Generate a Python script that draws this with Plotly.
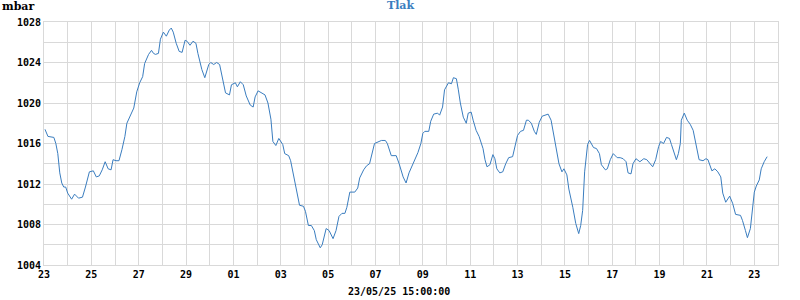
import pandas as pd
import plotly.graph_objects as go

# hours since 2025-04-23 00:00
hours = [1, 4, 10, 12, 14, 16, 18, 20, 22, 24, 28, 31, 35, 39, 42, 46, 50, 53, 56, 59,
         62, 65, 68, 70, 73, 76, 79, 82, 84, 87, 91, 94, 97, 100, 102, 106, 109, 111, 113, 116,
         118, 121, 124, 127, 129, 131, 134, 137, 140, 143, 145, 148, 151, 154, 156, 160, 163, 167, 169, 172,
         175, 178, 181, 184, 188, 190, 194, 196, 199, 202, 205, 209, 212, 214, 217, 221, 224, 227, 230, 232,
         235, 238, 242, 244, 248, 250, 252, 254, 257, 259, 263, 265, 268, 271, 274, 276, 280, 282, 286, 289,
         293, 296, 299, 302, 305, 307, 310, 315, 318, 320, 324, 327, 330, 333, 335, 342, 346, 348, 352, 357,
         360, 364, 367, 370, 374, 379, 382, 384, 386, 390, 392, 395, 399, 401, 404, 406, 410, 413, 415, 418,
         420, 422, 425, 428, 430, 433, 435, 438, 441, 445, 447, 449, 452, 455, 457, 459, 462, 465, 468, 471,
         475, 477, 480, 483, 486, 489, 491, 494, 497, 499, 502, 505, 511, 514, 516, 520, 522, 525, 527, 530,
         532, 536, 539, 542, 544, 546, 548, 551, 553, 557, 560, 563, 565, 569, 571, 574, 577, 581, 584, 587,
         590, 592, 595, 597, 600, 604, 608, 611, 614, 617, 620, 623, 625, 628, 631, 634, 636, 639, 641, 643,
         645, 646, 649, 652, 655, 658, 661, 664, 668, 671, 673, 677, 680, 683, 686, 688, 691, 695, 698, 701,
         706, 708, 711, 713, 716, 718, 720, 722, 725, 727, 730, 733]
pressure = [1017.4, 1016.7, 1016.6, 1016.0, 1015.0, 1013.1, 1012.1, 1011.7, 1011.7, 1011.1, 1010.5, 1011.0, 1010.6, 1010.7, 1011.7, 1013.2, 1013.3, 1012.7, 1012.8, 1013.4,
            1014.2, 1013.5, 1013.4, 1014.4, 1014.3, 1014.3, 1015.4, 1016.7, 1018.0, 1018.7, 1019.5, 1021.1, 1022.0, 1022.6, 1023.9, 1024.8, 1025.2, 1024.9, 1024.8, 1024.9,
            1026.3, 1027.0, 1026.6, 1027.2, 1027.4, 1027.0, 1025.9, 1025.1, 1025.0, 1026.2, 1026.1, 1025.7, 1026.1, 1025.9, 1024.9, 1023.3, 1022.5, 1023.8, 1024.0, 1023.8,
            1024.0, 1023.8, 1022.5, 1021.0, 1020.8, 1021.8, 1022.0, 1021.6, 1022.1, 1021.8, 1020.7, 1019.8, 1019.6, 1020.6, 1021.2, 1021.0, 1020.8, 1020.0, 1018.4, 1016.2,
            1015.8, 1016.5, 1015.9, 1015.0, 1014.8, 1014.3, 1013.4, 1012.4, 1011.1, 1009.9, 1009.8, 1009.3, 1007.9, 1007.9, 1007.4, 1006.5, 1005.7, 1006.0, 1007.6, 1007.4,
            1006.6, 1007.4, 1008.8, 1009.1, 1009.1, 1009.7, 1011.2, 1011.2, 1011.6, 1012.6, 1013.4, 1013.8, 1014.0, 1015.2, 1016.0, 1016.3, 1016.3, 1016.0, 1014.8, 1014.8,
            1014.0, 1012.7, 1012.1, 1013.1, 1014.0, 1015.1, 1016.0, 1017.0, 1017.2, 1017.2, 1018.2, 1018.9, 1019.0, 1018.8, 1019.6, 1021.3, 1022.0, 1021.9, 1022.5, 1022.4,
            1021.3, 1020.0, 1018.6, 1018.0, 1019.0, 1019.1, 1018.3, 1017.3, 1016.7, 1015.5, 1014.4, 1013.7, 1013.9, 1014.9, 1014.5, 1013.5, 1013.1, 1013.2, 1014.0, 1014.6,
            1014.7, 1015.5, 1016.8, 1017.2, 1017.3, 1018.3, 1018.3, 1018.0, 1017.2, 1016.9, 1018.1, 1018.7, 1018.9, 1018.3, 1017.2, 1015.4, 1014.0, 1013.2, 1013.5, 1012.9,
            1011.5, 1009.7, 1008.1, 1007.1, 1007.9, 1009.4, 1013.2, 1015.9, 1016.3, 1015.6, 1015.5, 1015.0, 1013.9, 1013.4, 1013.5, 1014.4, 1015.0, 1014.6, 1014.6, 1014.5,
            1014.2, 1013.1, 1013.0, 1014.0, 1014.5, 1014.2, 1014.5, 1014.4, 1014.0, 1013.7, 1014.4, 1015.7, 1016.2, 1016.0, 1016.6, 1016.5, 1015.9, 1015.0, 1014.4, 1015.0,
            1016.0, 1018.3, 1019.0, 1018.3, 1017.9, 1017.3, 1016.0, 1014.4, 1014.3, 1014.5, 1014.4, 1013.3, 1013.5, 1013.2, 1012.7, 1011.1, 1010.2, 1010.8, 1010.1, 1009.0,
            1008.9, 1008.4, 1007.4, 1006.7, 1007.6, 1009.7, 1011.2, 1011.8, 1012.4, 1013.5, 1014.2, 1014.7]

start = pd.Timestamp("2025-04-23 00:00")
end = pd.Timestamp("2025-05-24 00:00")
times = [start + pd.Timedelta(hours=h) for h in hours]

day_ticks = pd.date_range(start, end, freq="D")
day_text = [d.strftime("%d") if i % 2 == 0 and i < len(day_ticks) - 1 else "" for i, d in enumerate(day_ticks)]

y_ticks = list(range(1004, 1029, 2))
y_text = [str(v) if v % 4 == 0 else "" for v in y_ticks]

title_text = "Tlak"
unit_text = "mbar"
stamp_text = "23/05/25 15:00:00"

grid = "#d9d9d9"
line_color = "#3a7dbf"
tick_font = dict(family="DejaVu Sans Mono", size=10, color="#000000", weight="bold")

fig = go.Figure()
fig.add_trace(go.Scatter(x=times, y=pressure, mode="lines",
                         line=dict(color=line_color, width=1), hoverinfo="skip"))

fig.update_layout(
    width=800, height=300,
    margin=dict(l=44, r=22, t=22, b=35),
    paper_bgcolor="white", plot_bgcolor="white",
    showlegend=False,
    xaxis=dict(type="date", range=[start, end], tickmode="array",
               tickvals=list(day_ticks), ticktext=day_text,
               showgrid=True, gridcolor=grid, gridwidth=1,
               showline=True, linecolor=grid, linewidth=1, mirror=True,
               ticks="", tickfont=tick_font, zeroline=False),
    yaxis=dict(range=[1004, 1028], tickmode="array", tickvals=y_ticks, ticktext=y_text,
               showgrid=True, gridcolor=grid, gridwidth=1,
               showline=True, linecolor=grid, linewidth=1, mirror=True,
               ticks="", tickfont=tick_font, zeroline=False),
    annotations=[
        dict(text=title_text, xref="paper", yref="paper", x=(400 - 44) / 734, y=1 + 16.5 / 243,
             xanchor="center", yanchor="middle", showarrow=False,
             font=dict(family="DejaVu Serif", size=11, color=line_color, weight="bold")),
        dict(text=unit_text, xref="paper", yref="paper", x=(0 - 44) / 734, y=1 + 15.5 / 243,
             xanchor="left", yanchor="middle", showarrow=False,
             font=dict(family="DejaVu Serif", size=11, color="#000000", weight="bold")),
        dict(text=stamp_text, xref="paper", yref="paper", x=(399 - 44) / 734, y=-(291 - 265) / 243,
             xanchor="center", yanchor="middle", showarrow=False,
             font=tick_font),
    ],
)

fig.write_html("out.html")
